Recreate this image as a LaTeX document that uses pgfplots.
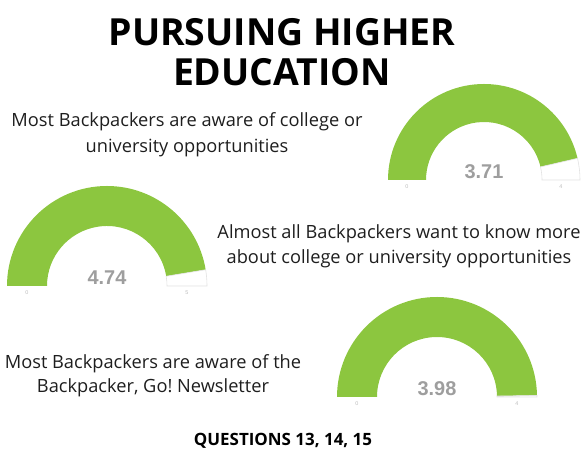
\documentclass[border=0pt]{standalone}
\usepackage{pgfplots}
\pgfplotsset{compat=1.18}
\usepackage{fontspec}
\setmainfont{Open Sans}
\newfontfamily\numfont{Liberation Sans}
\frenchspacing

\definecolor{gaugegreen}{HTML}{8CC63F}
\definecolor{gaugeline}{HTML}{E2E2E2}
\definecolor{valgray}{HTML}{9E9E9E}
\definecolor{tickgray}{HTML}{BDBDBD}
\definecolor{bodytext}{HTML}{1E1E1E}

% gauge: cx, cy, outer R, inner r, value, max
\newcommand{\gauge}[6]{%
  \fill[gaugegreen] (axis cs:#1-#3,#2) arc[start angle=180, end angle={180*(1-#5/#6)}, radius=#3bp]
    -- ($(axis cs:#1,#2)+({180*(1-#5/#6)}:#4bp)$) arc[start angle={180*(1-#5/#6)}, end angle=180, radius=#4bp] -- cycle;
  \draw[gaugeline, fill=white, line width=0.6bp] ($(axis cs:#1,#2)+({180*(1-#5/#6)}:#3bp)$)
    arc[start angle={180*(1-#5/#6)}, end angle=0, radius=#3bp]
    -- (axis cs:#1+#4,#2) arc[start angle=0, end angle={180*(1-#5/#6)}, radius=#4bp] -- cycle;
  \node[anchor=base, text=valgray, font=\numfont\bfseries\fontsize{20}{21}\selectfont] at (axis cs:#1,#2+1) {#5};
  \node[text=tickgray, font=\numfont\fontsize{5.5}{6}\selectfont] at (axis cs:#1-#3/2-#4/2,#2-7) {0};
  \node[text=tickgray, font=\numfont\fontsize{5.5}{6}\selectfont] at (axis cs:#1+#3/2+#4/2,#2-7) {#6};
}

\usetikzlibrary{calc}

\begin{document}
\begin{tikzpicture}
\begin{axis}[
    x=1bp, y=1bp,
    xmin=0, xmax=584,
    ymin=0, ymax=449,
    hide axis,
    clip=true,
]
  \addplot[draw=none] coordinates {(0,0) (584,449)};

  % title
  \node[anchor=base, font=\bfseries\fontsize{37.5}{40}\selectfont] at (axis cs:282,403) {PURSUING HIGHER};
  \node[anchor=base, font=\bfseries\fontsize{37.5}{40}\selectfont] at (axis cs:282,363) {EDUCATION};

  % captions
  \node[anchor=base, text=bodytext, font=\fontsize{18.3}{20}\selectfont] at (axis cs:187,322) {Most Backpackers are aware of college or};
  \node[anchor=base, text=bodytext, font=\fontsize{18.3}{20}\selectfont] at (axis cs:187,296) {university opportunities};

  \node[anchor=base, text=bodytext, font=\fontsize{18.3}{20}\selectfont] at (axis cs:399,210) {Almost all Backpackers want to know more};
  \node[anchor=base, text=bodytext, font=\fontsize{18.3}{20}\selectfont] at (axis cs:399,185) {about college or university opportunities};

  \node[anchor=base, text=bodytext, font=\fontsize{18.3}{20}\selectfont] at (axis cs:153,80) {Most Backpackers are aware of the};
  \node[anchor=base, text=bodytext, font=\fontsize{18.3}{20}\selectfont] at (axis cs:153,56) {Backpacker, Go!\ Newsletter};

  \node[anchor=base, font=\bfseries\fontsize{17}{18}\selectfont] at (axis cs:283,3) {QUESTIONS 13, 14, 15};

  % gauges
  \gauge{484}{269}{96}{58}{3.71}{4}
  \gauge{107}{163}{100}{60}{4.74}{5}
  \gauge{437}{52}{100}{60}{3.98}{4}
\end{axis}
\end{tikzpicture}
\end{document}
